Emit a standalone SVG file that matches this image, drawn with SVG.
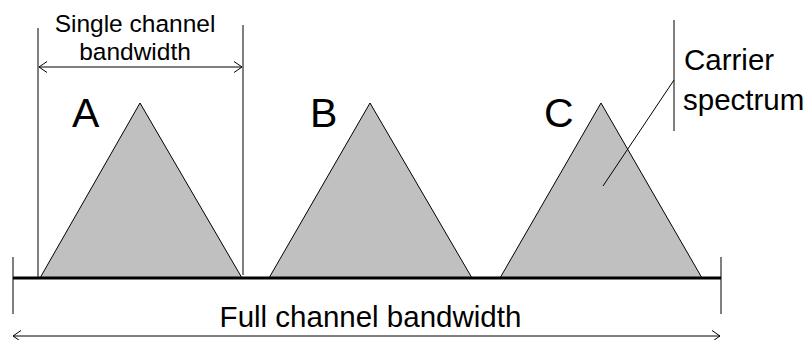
<svg xmlns="http://www.w3.org/2000/svg" width="809" height="340" viewBox="0 0 809 340">
  <defs>
    <marker id="open" viewBox="0 0 10 12" refX="9" refY="6" markerWidth="10" markerHeight="12" markerUnits="userSpaceOnUse" orient="auto-start-reverse">
      <path d="M1,0.5 L9,6 L1,11.5" fill="none" stroke="#000" stroke-width="1"/>
    </marker>
  </defs>
  <style>
    .lbl { font-family: "Liberation Sans", Arial, sans-serif; fill: #000; }
    .carrier { fill: #c0c0c0; stroke: #000; stroke-width: 1; }
    .thin { stroke: #000; stroke-width: 1; fill: none; }
    .axis { stroke: #000; stroke-width: 3; fill: none; }
  </style>
  <rect width="809" height="340" fill="#fff"/>

  <!-- carrier spectra -->
  <g id="carrier-a">
    <polygon class="carrier" points="40,278 140,103 242,278"/>
    <text class="lbl" x="72" y="127" font-size="41">A</text>
  </g>
  <g id="carrier-b">
    <polygon class="carrier" points="269,278 370,103 472,278"/>
    <text class="lbl" x="310" y="127" font-size="41">B</text>
  </g>
  <g id="carrier-c">
    <polygon class="carrier" points="500,278 601,103 702,278"/>
    <text class="lbl" x="544" y="127" font-size="41">C</text>
  </g>

  <!-- frequency axis -->
  <g id="axis">
    <line class="axis" x1="13" y1="278" x2="721" y2="278"/>
  </g>

  <g id="single-channel-label">
    <text class="lbl" x="135" y="32" font-size="24.5" text-anchor="middle">Single channel</text>
    <text class="lbl" x="135" y="60" font-size="24.5" text-anchor="middle">bandwidth</text>
  </g>

  <g id="carrier-spectrum-label">
    <text class="lbl" x="684" y="70" font-size="29.5">Carrier</text>
    <text class="lbl" x="683" y="110" font-size="29.5">spectrum</text>
  </g>

  <g id="full-channel-label">
    <text class="lbl" x="370.5" y="327" font-size="29.5" text-anchor="middle">Full channel bandwidth</text>
  </g>

  <!-- dimension lines, ticks and leader -->
  <g id="connectors">
    <line class="thin" x1="38" y1="28" x2="38" y2="277"/>
    <line class="thin" x1="243" y1="25" x2="243" y2="275"/>
    <line class="thin" x1="39" y1="67" x2="242" y2="67" marker-start="url(#open)" marker-end="url(#open)"/>
    <line class="thin" x1="13" y1="257" x2="13" y2="314" stroke-width="1.5"/>
    <line class="thin" x1="721" y1="257" x2="721" y2="314" stroke-width="1.5"/>
    <line class="thin" x1="13" y1="336" x2="720" y2="336" marker-start="url(#open)" marker-end="url(#open)"/>
    <line class="thin" x1="674" y1="20" x2="674" y2="131"/>
    <line class="thin" x1="674" y1="80" x2="603" y2="186"/>
  </g>
</svg>
